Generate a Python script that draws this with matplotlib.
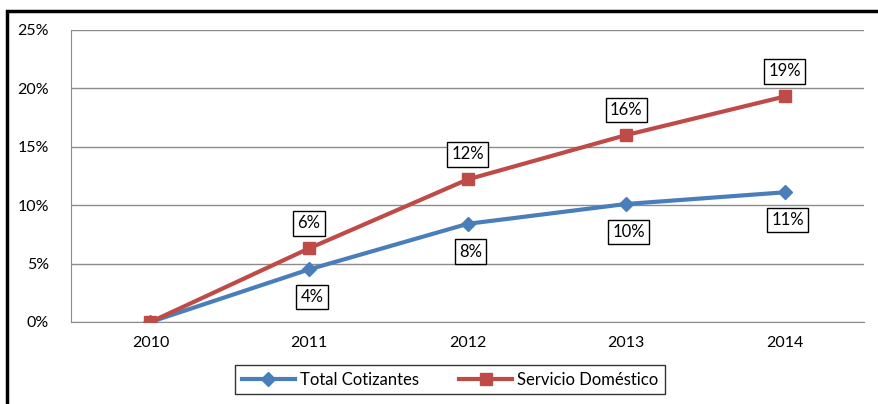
import matplotlib.pyplot as plt
from matplotlib.patches import Rectangle

years = ['2010', '2011', '2012', '2013', '2014']
total_cotizantes = [0.0, 4.5, 8.4, 10.1, 11.1]
servicio_domestico = [0.0, 6.3, 12.2, 16.0, 19.3]
labels_total = ['', '4%', '8%', '10%', '11%']
labels_servicio = ['', '6%', '12%', '16%', '19%']

plt.rcParams['font.family'] = ['Lato', 'DejaVu Sans']
plt.rcParams['font.size'] = 11.5

fig = plt.figure(figsize=(8.79, 4.04), dpi=100)
ax = fig.add_axes([0.081, 0.203, 0.902, 0.723])

x = list(range(len(years)))
ax.plot(x, total_cotizantes, color='#4a7ebb', lw=3, marker='D', ms=7,
        label='Total Cotizantes', zorder=3)
ax.plot(x, servicio_domestico, color='#be4b48', lw=3, marker='s', ms=8,
        label='Servicio Doméstico', zorder=4)

box = dict(boxstyle='square,pad=0.25', fc='white', ec='black', lw=1)
for i in x:
    if labels_servicio[i]:
        ax.annotate(labels_servicio[i], (i, servicio_domestico[i]), xytext=(0, 18),
                    textcoords='offset points', ha='center', va='center', bbox=box,
                    fontsize=12)
    if labels_total[i]:
        ax.annotate(labels_total[i], (i, total_cotizantes[i]), xytext=(2, -20),
                    textcoords='offset points', ha='center', va='center', bbox=box,
                    fontsize=12)

ax.set_xlim(-0.5, 4.5)
ax.set_ylim(0, 25)
ax.set_xticks(x)
ax.set_xticklabels(years)
ax.set_yticks([0, 5, 10, 15, 20, 25])
ax.set_yticklabels(['0%', '5%', '10%', '15%', '20%', '25%'])
ax.tick_params(length=0, pad=10)
ax.tick_params(axis='y', pad=16)
ax.yaxis.grid(True, color='#8c8c8c', lw=1)
ax.set_axisbelow(True)
for s in ['top', 'right']:
    ax.spines[s].set_visible(False)
for s in ['left', 'bottom']:
    ax.spines[s].set_color('#8c8c8c')

leg = fig.legend(loc='center', bbox_to_anchor=(0.512, 0.06), ncol=2, frameon=True,
                 fancybox=False, edgecolor='black', fontsize=12, handlelength=3.2,
                 handletextpad=0.3, columnspacing=2.4, borderpad=0.4)
leg.get_frame().set_linewidth(1)

# outer chart frame
fig.patches.append(Rectangle((0.008, -0.05), 1.1, 1.023, transform=fig.transFigure,
                             fill=False, ec='black', lw=2.5))

fig.savefig('out.png', dpi=100)
